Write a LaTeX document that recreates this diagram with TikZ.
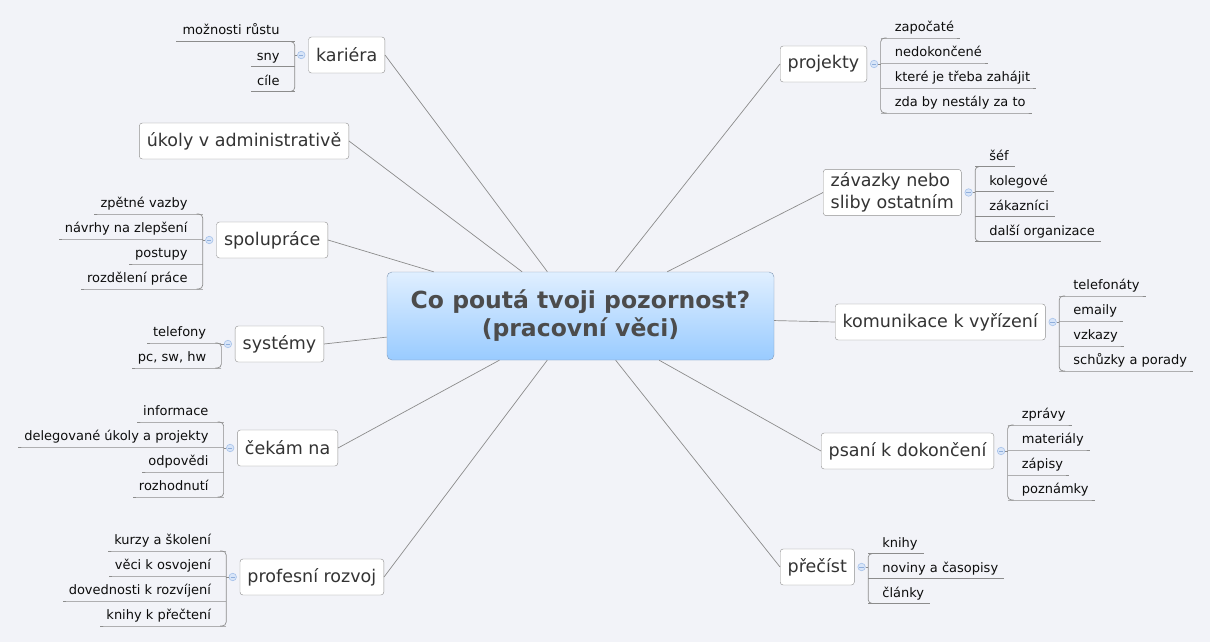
\documentclass[tikz,border=0pt]{standalone}
\usepackage{fontspec}
\setmainfont{DejaVu Sans}
\usepackage{tikz}
\usetikzlibrary{positioning}

\definecolor{paper}{HTML}{F2F3F8}
\definecolor{linegray}{HTML}{8C8C8C}
\definecolor{boxgray}{HTML}{8F8F8F}
\definecolor{foldfill}{HTML}{D8E5F8}
\definecolor{folddraw}{HTML}{A6C2EA}
\definecolor{foldminus}{HTML}{8FAEDB}
\definecolor{rootdraw}{HTML}{8399B5}
\definecolor{roottop}{HTML}{E0EFFF}
\definecolor{rootbot}{HTML}{99CBFF}

\begin{document}
\begin{tikzpicture}[
  x=1pt,y=-1pt,
  root/.style={draw=rootdraw,rounded corners=5pt,top color=roottop,bottom color=rootbot,minimum width=387pt,minimum height=88pt,align=center,text=black!70,font=\fontsize{23.5}{28}\selectfont\bfseries},
  topic/.style={draw=boxgray,rounded corners=3pt,fill=white,minimum height=36pt,inner xsep=7.5pt,align=left,text=black!80,font=\fontsize{17.5}{22}\selectfont},
  leaf/.style={inner sep=0pt,text=black!95,font=\fontsize{13}{15}\selectfont},
  fold/.style={circle,draw=folddraw,fill=foldfill,minimum size=7.5pt,inner sep=0pt,line width=0.6pt},
  link/.style={draw=linegray,line width=0.7pt},
  branch/.style={draw=linegray,line width=0.7pt}
]
\fill[paper] (0,0) rectangle (1210,642);
\useasboundingbox (0,0) rectangle (1210,642);

\node[root] (root) at (580.5,316) {Co poutá tvoji pozornost?\\(pracovní věci)};

\node[topic,anchor=east] (kariera) at (385,55) {kariéra};
\node[topic,anchor=east] (ukoly) at (349,141) {úkoly v administrativě};
\node[topic,anchor=east] (spoluprace) at (328,240) {spolupráce};
\node[topic,anchor=east] (systemy) at (324,344) {systémy};
\node[topic,anchor=east] (cekam) at (338,448) {čekám na};
\node[topic,anchor=east] (rozvoj) at (384,577) {profesní rozvoj};

\node[topic,anchor=west] (projekty) at (780,64) {projekty};
\node[topic,anchor=west] (zavazky) at (823,192.5) {závazky nebo\\sliby ostatním};
\node[topic,anchor=west] (komunikace) at (835,322) {komunikace k vyřízení};
\node[topic,anchor=west] (psani) at (821,451) {psaní k dokončení};
\node[topic,anchor=west] (precist) at (780,567) {přečíst};

\foreach \nm in {kariera,ukoly,spoluprace,systemy,cekam,rozvoj}
  \draw[link] (\nm.east) -- (root);
\foreach \nm in {projekty,zavazky,komunikace,psani,precist}
  \draw[link] (\nm.west) -- (root);

% leaves on the left
\foreach \nm/\cnt/\items in {kariera/3/{možnosti růstu,sny,cíle},
    spoluprace/4/{zpětné vazby,návrhy na zlepšení,postupy,rozdělení práce},
    systemy/2/{telefony,{pc, sw, hw}},
    cekam/4/{informace,delegované úkoly a projekty,odpovědi,rozhodnutí},
    rozvoj/4/{kurzy a školení,věci k osvojení,dovednosti k rozvíjení,knihy k přečtení}}{
  \node[fold,left=3pt of \nm] (\nm-f) {};
  \draw[foldminus,line width=0.8pt] (\nm-f.center) +(-2.2,0) -- +(2.2,0);
  \draw[branch] (\nm-f.west) -- ++(-2.5,0) coordinate (\nm-b);
  \draw[branch,rounded corners=4pt] (\nm-b) ++(-6,{(1-\cnt)*12.5+11.5}) -- ++(6,0) -- ++(0,{(\cnt-1)*25}) -- ++(-6,0);
  \foreach \txt [count=\i] in \items {
    \path (\nm-b) ++(0,{(\i-(\cnt+1)/2)*25+11.5}) coordinate (u) ++(-15,-6.5) node[leaf,anchor=base east] (l) {\txt};
    \draw[branch] (u) -- (l.west |- u) -- ++(-6,0);
  }
}

% leaves on the right
\foreach \nm/\cnt/\items in {projekty/4/{započaté,nedokončené,které je třeba zahájit,zda by nestály za to},
    zavazky/4/{šéf,kolegové,zákazníci,další organizace},
    komunikace/4/{telefonáty,emaily,vzkazy,schůzky a porady},
    psani/4/{zprávy,materiály,zápisy,poznámky},
    precist/3/{knihy,noviny a časopisy,články}}{
  \node[fold,right=3pt of \nm] (\nm-f) {};
  \draw[foldminus,line width=0.8pt] (\nm-f.center) +(-2.2,0) -- +(2.2,0);
  \draw[branch] (\nm-f.east) -- ++(2.5,0) coordinate (\nm-b);
  \draw[branch,rounded corners=4pt] (\nm-b) ++(6,{(1-\cnt)*12.5+11.5}) -- ++(-6,0) -- ++(0,{(\cnt-1)*25}) -- ++(6,0);
  \foreach \txt [count=\i] in \items {
    \path (\nm-b) ++(0,{(\i-(\cnt+1)/2)*25+11.5}) coordinate (u) ++(14,-6.5) node[leaf,anchor=base west] (l) {\txt};
    \draw[branch] (u) -- (l.east |- u) -- ++(6,0);
  }
}
\end{tikzpicture}
\end{document}
